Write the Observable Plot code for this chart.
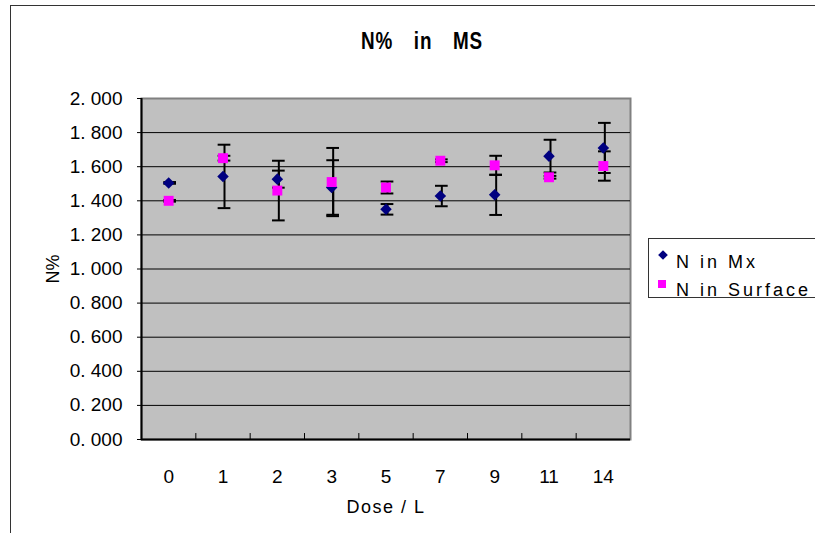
<!DOCTYPE html>
<html>
<head>
<meta charset="utf-8">
<script src="https://cdn.jsdelivr.net/npm/d3@7"></script>
<script src="https://cdn.jsdelivr.net/npm/@observablehq/plot@0.6"></script>
<style>
  body { margin: 0; background: #fff; }
  #wrap { position: relative; width: 815px; height: 533px; overflow: hidden; font-family: "Liberation Sans", Arial, sans-serif; }
  #frame { position: absolute; left: 10px; top: 5px; width: 900px; height: 700px; border: 1px solid #333; box-sizing: border-box; }
  #chart { position: absolute; left: 0; top: 0; }
  #title { position: absolute; left: 422px; top: 30px; transform: translateX(-50%) scaleX(0.82); font-family: "Liberation Sans", Arial, sans-serif; font-weight: bold; font-size: 23px; line-height: 23px; white-space: nowrap; letter-spacing: 1px; word-spacing: 18px; color: #000; }
  #legend { position: absolute; left: 648px; top: 238px; width: 300px; height: 60px; border: 1px solid #333; box-sizing: border-box; background: #fff; }
  #legend .lbl { position: absolute; left: 27px; font-size: 18px; line-height: 18px; letter-spacing: 3px; white-space: nowrap; color: #000; }
  #legend svg { position: absolute; left: 0; top: 0; }
  g[aria-label="x-axis label"] text { letter-spacing: 1.5px; }
  g[aria-label="y-axis tick label"] text { font-size: 19px; }
  g[aria-label="x-axis tick label"] text { font-size: 19px; }
</style>
</head>
<body>
<div id="wrap">
  <div id="frame"></div>
  <div id="chart"></div>
  <div id="title"></div>
  <div id="legend"></div>
</div>
<script>
// ---- data ----
const titleText = "N% in MS";
const xTitle = "Dose / L";
const yTitle = "N%";
const categories = ["0", "1", "2", "3", "5", "7", "9", "11", "14"];
const seriesNames = ["N in Mx", "N in Surface"];
const mixVals = [1.505, 1.543, 1.527, 1.478, 1.350, 1.428, 1.435, 1.662, 1.710];
const mixErr  = [0.005, 0.186, 0.050, 0.160, 0.031, 0.060, 0.118, 0.096, 0.147];
const surfVals = [1.400, 1.650, 1.460, 1.510, 1.478, 1.635, 1.608, 1.538, 1.604];
const surfErr  = [0.005, 0.014, 0.175, 0.200, 0.035, 0.008, 0.056, 0.008, 0.086];
const yTicks = [0, 0.2, 0.4, 0.6, 0.8, 1.0, 1.2, 1.4, 1.6, 1.8, 2.0];
const colors = ["#000080", "#FF00FF"];

// ---- derived ----
const rows = categories.map((c, i) => ({
  i, c, mix: mixVals[i], mixE: mixErr[i], surf: surfVals[i], surfE: surfErr[i]
}));
const boundaries = categories.slice(1).map((c, i) => i + 0.5);
const gridVals = yTicks.filter(v => v > 0 && v < 2);
const capHalf = 0.117;

function errMarks(valKey, errKey) {
  const lo = d => d[valKey] - d[errKey];
  const hi = d => d[valKey] + d[errKey];
  return [
    Plot.ruleX(rows, {x: "i", y1: lo, y2: hi, stroke: "#000", strokeWidth: 2, dx: 1.5}),
    Plot.ruleY(rows, {y: lo, x1: d => d.i - capHalf, x2: d => d.i + capHalf, stroke: "#000", strokeWidth: 2, dx: 1.5}),
    Plot.ruleY(rows, {y: hi, x1: d => d.i - capHalf, x2: d => d.i + capHalf, stroke: "#000", strokeWidth: 2, dx: 1.5})
  ];
}

const chart = Plot.plot({
  width: 815,
  height: 533,
  marginLeft: 141,
  marginRight: 185,
  marginTop: 98,
  marginBottom: 94,
  style: {fontFamily: "Liberation Sans, Arial, sans-serif", fontSize: "18px", background: "transparent", color: "#000", overflow: "visible"},
  x: {domain: [-0.5, categories.length - 0.5]},
  y: {domain: [0, 2]},
  marks: [
    Plot.frame({fill: "#C0C0C0", stroke: "#808080", strokeWidth: 2}),
    Plot.ruleY(gridVals, {stroke: "#000", strokeWidth: 1}),
    Plot.ruleY([0], {stroke: "#000", strokeWidth: 2}),
    Plot.ruleX([-0.5], {stroke: "#000", strokeWidth: 2}),
    Plot.ruleX(boundaries, {x: d => d, y1: 0, y2: 0.035, stroke: "#000", strokeWidth: 1}),
    Plot.axisY({
      ticks: yTicks,
      tickFormat: d => d3.format(".3f")(d).replace(".", ". "),
      tickSize: 4,
      tickPadding: 15,
      label: yTitle,
      labelAnchor: "center",
      labelArrow: "none",
      labelOffset: 95
    }),
    Plot.axisX({
      ticks: d3.range(categories.length),
      tickFormat: i => categories[i],
      tickSize: 0,
      tickPadding: 30,
      label: xTitle,
      labelAnchor: "center",
      labelArrow: "none",
      labelOffset: 73
    }),
    ...errMarks("mix", "mixE"),
    ...errMarks("surf", "surfE"),
    Plot.dot(rows, {x: "i", y: "mix", symbol: "diamond2", r: 5.2, fill: colors[0], stroke: "none"}),
    Plot.dot(rows, {x: "i", y: "surf", symbol: "square", r: 5.6, fill: colors[1], stroke: "none"})
  ]
});
document.getElementById("chart").appendChild(chart);
document.getElementById("title").textContent = titleText;

// ---- legend ----
const legend = d3.select("#legend");
const lsvg = legend.append("svg").attr("width", 40).attr("height", 60);
lsvg.append("path").attr("d", d3.symbol(d3.symbolDiamond2, 60)()).attr("transform", "translate(14,16)").attr("fill", colors[0]);
lsvg.append("rect").attr("x", 9).attr("y", 41).attr("width", 8).attr("height", 8).attr("fill", colors[1]);
legend.append("div").attr("class", "lbl").style("top", "14px").text(seriesNames[0]);
legend.append("div").attr("class", "lbl").style("top", "42px").text(seriesNames[1]);
</script>
</body>
</html>
